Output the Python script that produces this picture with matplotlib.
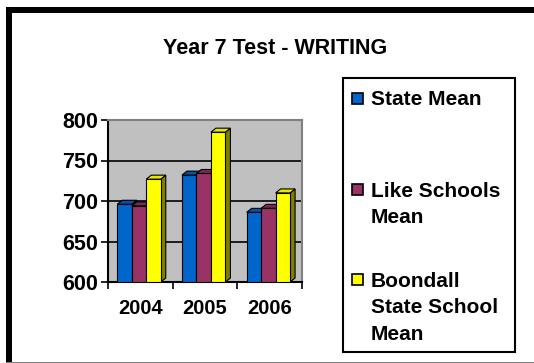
import numpy as np
import matplotlib.pyplot as plt
from matplotlib.patches import Rectangle, Polygon

plt.rcParams['font.family'] = ['Liberation Sans', 'DejaVu Sans']
plt.rcParams['font.weight'] = 'bold'

years = ['2004', '2005', '2006']
state_mean = [696, 732, 686]
like_schools_mean = [694, 734, 691]
boondall_mean = [727, 785, 710]

series = [state_mean, like_schools_mean, boondall_mean]
front_cols = ['#0066CC', '#993366', '#FFFF00']
top_cols = ['#0055AA', '#7A2952', '#E6E600']
side_cols = ['#003366', '#4C1933', '#808000']
legend_lines = [['State Mean'], ['Like Schools', 'Mean'], ['Boondall', 'State School', 'Mean']]

W, H = 534, 363
fig = plt.figure(figsize=(W / 100, H / 100), dpi=100)


def fx(px):
    return px / W


def fy(py):
    return 1 - py / H


# outer frame (thick black top/left, thin grey bottom)
fig.add_artist(Rectangle((fx(6), fy(13)), 1, fy(7) - fy(13), transform=fig.transFigure,
                         facecolor='black', edgecolor='none'))
fig.add_artist(Rectangle((fx(6), fy(362)), fx(12) - fx(6), fy(7) - fy(362), transform=fig.transFigure,
                         facecolor='black', edgecolor='none'))
fig.add_artist(Rectangle((fx(6), fy(363)), 1, fy(361.5) - fy(363), transform=fig.transFigure,
                         facecolor='#808080', edgecolor='none'))

fig.text(fx(275), fy(49), 'Year 7 Test - WRITING', ha='center', va='center',
         fontsize=15.5, fontweight='bold')

ax = fig.add_axes([fx(108), fy(282), fx(302) - fx(108), fy(120) - fy(282)])
ax.set_facecolor('#C0C0C0')
ax.set_xlim(-0.5, 2.5)
ax.set_ylim(600, 800)

x = np.arange(len(years))
bw = 0.224
dx, dy = 0.077, 4.9
for i, vals in enumerate(series):
    xs = x + (i - 1) * bw - 0.02
    ax.bar(xs, np.array(vals) - 600, bw, bottom=600, color=front_cols[i],
           edgecolor='black', linewidth=0.8, zorder=3)
    for xc, v in zip(xs, vals):
        l, r = xc - bw / 2, xc + bw / 2
        ax.add_patch(Polygon([(l, v), (r, v), (r + dx, v + dy), (l + dx, v + dy)],
                             facecolor=top_cols[i], edgecolor='black', linewidth=0.8,
                             zorder=3, clip_on=False))
        ax.add_patch(Polygon([(r, 600), (r, v), (r + dx, v + dy), (r + dx, 600 + dy)],
                             facecolor=side_cols[i], edgecolor='black', linewidth=0.8,
                             zorder=2.9, clip_on=False))

for g in [650, 700, 750]:
    ax.axhline(g, color='black', linewidth=1.2, zorder=1)

ax.set_yticks([600, 650, 700, 750, 800])
ax.set_xticks(x)
ax.set_xticklabels(years)
ax.set_xticks([-0.5, 0.5, 1.5, 2.5], minor=True)
ax.tick_params(axis='x', which='major', length=0, labelsize=14.5, pad=12)
ax.tick_params(axis='x', which='minor', length=5, width=1.2, color='black')
ax.tick_params(axis='y', length=5, width=1.2, labelsize=15.5, pad=2)
for lab in ax.get_xticklabels() + ax.get_yticklabels():
    lab.set_fontweight('bold')

for s in ['top', 'right']:
    ax.spines[s].set_color('#808080')
    ax.spines[s].set_linewidth(1.5)
for s in ['left', 'bottom']:
    ax.spines[s].set_color('black')
    ax.spines[s].set_linewidth(1.5)

# legend box
fig.add_artist(Rectangle((fx(343), fy(352)), fx(515) - fx(343), fy(78) - fy(352),
                         transform=fig.transFigure, facecolor='white', edgecolor='black', linewidth=1.5))
first_base = [105, 196.7, 286.7]
for i, lines in enumerate(legend_lines):
    b = first_base[i]
    fig.add_artist(Rectangle((fx(352), fy(b - 1.5)), fx(363) - fx(352), fy(b - 12.5) - fy(b - 1.5),
                             transform=fig.transFigure, facecolor=front_cols[i],
                             edgecolor='black', linewidth=1.2))
    for j, t in enumerate(lines):
        fig.text(fx(371), fy(b + j * 26.7), t, ha='left', va='baseline',
                 fontsize=15, fontweight='bold')

fig.savefig('out.png', dpi=100)
